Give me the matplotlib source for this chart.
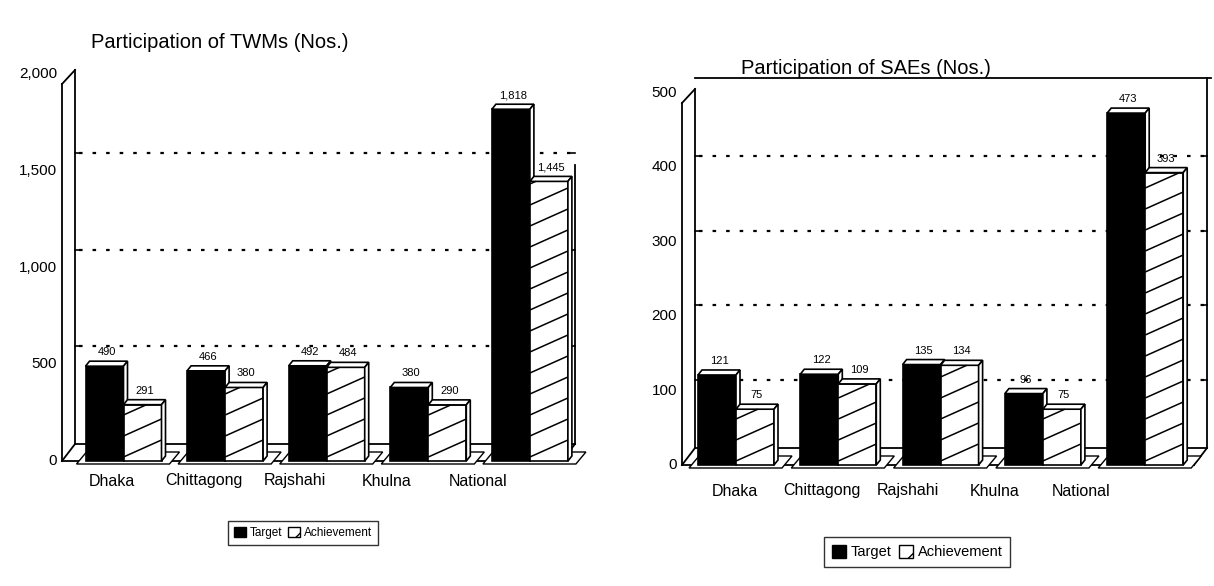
import matplotlib
matplotlib.use('Agg')
import matplotlib.pyplot as plt
from matplotlib.patches import Polygon, Rectangle, Patch
from matplotlib.collections import LineCollection

plt.rcParams['font.family'] = ['Liberation Sans', 'DejaVu Sans']

# data
regions = ['Dhaka', 'Chittagong', 'Rajshahi', 'Khulna', 'National']
twm_target = [490, 466, 492, 380, 1818]
twm_achieved = [291, 380, 484, 290, 1445]
sae_target = [121, 122, 135, 96, 473]
sae_achieved = [75, 109, 134, 75, 393]
twm_ticks = [0, 500, 1000, 1500, 2000]
sae_ticks = [0, 100, 200, 300, 400, 500]
twm_grid = [500, 1000, 1500]
sae_grid = [100, 200, 300, 400]
legend_labels = ['Target', 'Achievement']

W, H = 1214, 586
fig = plt.figure(figsize=(W / 100, H / 100), dpi=100)

# layout of each panel in figure pixels (y measured from the top)
lay_twm = dict(x0=0, x1=607, g0=123.5, step=101.6, y0=461, sy=0.1935,
               lab0=112, labstep=91.5, laby=481, wl=62, wr=562, top=None,
               grid_off=18, title_x=220, title_y=43, leg=(303, 533), legfs=8.5)
lay_sae = dict(x0=607, x1=1214, g0=736, step=102.3, y0=465, sy=0.744,
               lab0=735, labstep=86.5, laby=491, wl=682, wr=1194, top=78,
               grid_off=11, title_x=866, title_y=68, leg=(917, 552), legfs=10.5)


def hatch_segments(x, bw, h, rise, gap):
    # diagonal lines clipped by hand to the bar face
    segs = []
    y = -rise
    while y < h:
        x0, y0, x1, y1 = x, y, x + bw, y + rise
        if y0 < 0:
            x0 = x + bw * (-y) / rise
            y0 = 0
        if y1 > h:
            x1 = x + bw * (h - y) / rise
            y1 = h
        if x1 > x0:
            segs.append([(x0, y0), (x1, y1)])
        y += gap
    return segs


def panel(target, achieved, ticks, grid, title, lay):
    ax = fig.add_axes([lay['x0'] / W, 0, (lay['x1'] - lay['x0']) / W, 1])
    ax.set_axis_off()
    X = lambda px: (px - lay['g0']) / lay['step']
    Y = lambda py: (lay['y0'] - py) / lay['sy']
    DX = lambda px: px / lay['step']
    DY = lambda px: px / lay['sy']
    ax.set_xlim(X(lay['x0']), X(lay['x1']))
    ax.set_ylim(Y(H), Y(0))

    dxw, dyw = DX(13), DY(17)
    xl, xr = X(lay['wl']), X(lay['wr'])
    ytop = ticks[-1]
    k = dict(color='black', lw=1.3, zorder=2)
    # left wall, floor and back edges
    ax.plot([xl, xl], [0, ytop - DY(10)], **k)
    ax.plot([xl + dxw, xl + dxw], [dyw, ytop + DY(4)], **k)
    ax.plot([xl, xl + dxw], [ytop - DY(10), ytop + DY(4)], **k)
    ax.plot([xl, xl + dxw], [0, dyw], **k)
    ax.plot([xl, xr], [0, 0], **k)
    ax.plot([xl + dxw, xr + dxw], [dyw, dyw], **k)
    ax.plot([xr, xr + dxw], [0, dyw], **k)
    if lay['top'] is not None:
        yt = Y(lay['top'])
        ax.plot([xl + dxw, xr + dxw + DX(4)], [yt, yt], **k)
        ax.plot([xr + dxw, xr + dxw], [dyw, yt], **k)
    else:
        ax.plot([xr + dxw, xr + dxw], [dyw, grid[-1] + DY(lay['grid_off'] - 12)], **k)

    # dashed grid on the back wall
    for g in grid:
        gy = g + DY(lay['grid_off'])
        ax.plot([xl + dxw + DX(4), xr + dxw - DX(3)], [gy, gy], color='black', lw=1.6,
                ls=(0, (1.6, 4.5)), zorder=1)
        ax.plot([xl + dxw, xl + dxw + DX(4)], [gy, gy], color='black', lw=1.2, zorder=1)
        ax.plot([xr + dxw - DX(4), xr + dxw], [gy, gy], color='black', lw=1.2, zorder=1)

    # y tick labels
    for t in ticks:
        ax.text(xl - DX(5), t, f'{t:,}', ha='right', va='center', fontsize=11)

    bw = 38 / lay['step']
    bdx, bdy = DX(4), DY(5)
    for i, (t, a) in enumerate(zip(target, achieved)):
        # small floor plate under each group
        plate = Polygon([(i - bw - DX(9), -DY(3)), (i + bw + DX(8), -DY(3)),
                         (i + bw + DX(18), DY(9)), (i - bw + DX(1), DY(9))],
                        closed=True, fc='white', ec='black', lw=1.0, zorder=3)
        ax.add_patch(plate)
        for x, h, fill, hatch in [(i - bw, t, 'black', False), (i, a, 'white', True)]:
            front = Rectangle((x, 0), bw, h, fc=fill, ec='black', lw=1.2, zorder=4)
            ax.add_patch(front)
            top = Polygon([(x, h), (x + bw, h), (x + bw + bdx, h + bdy), (x + bdx, h + bdy)],
                          closed=True, fc='white', ec='black', lw=1.2, zorder=4)
            side = Polygon([(x + bw, 0), (x + bw + bdx, bdy), (x + bw + bdx, h + bdy), (x + bw, h)],
                           closed=True, fc='white', ec='black', lw=1.2, zorder=4)
            ax.add_patch(top)
            ax.add_patch(side)
            if hatch:
                segs = hatch_segments(x, bw, h, DY(17), DY(21))
                ax.add_collection(LineCollection(segs, colors='black', linewidths=1.1, zorder=5))
            ax.text(x + bw / 2 + DX(2), h + bdy + DY(4), f'{h:,}', ha='center', va='bottom',
                    fontsize=8, zorder=6)

    # category labels
    for i, name in enumerate(regions):
        lx = X(lay['lab0'] + lay['labstep'] * i)
        ax.text(lx, Y(lay['laby']), name, ha='center', va='center', fontsize=11.5)

    ax.text(X(lay['title_x']), Y(lay['title_y']), title, ha='center', va='center', fontsize=14.5)

    handles = [Patch(fc='black', ec='black'), Patch(fc='white', ec='black', hatch='/')]
    lx, ly = lay['leg']
    leg = ax.legend(handles, legend_labels, loc='center', ncol=2,
                    bbox_to_anchor=(lx / W, 1 - ly / H), bbox_transform=fig.transFigure,
                    fontsize=lay['legfs'], handlelength=1.0, handleheight=1.0,
                    handletextpad=0.3, columnspacing=0.5, fancybox=False,
                    edgecolor='black', borderpad=0.5)
    leg.get_frame().set_linewidth(1.0)
    return ax


panel(twm_target, twm_achieved, twm_ticks, twm_grid, 'Participation of TWMs (Nos.)', lay_twm)
panel(sae_target, sae_achieved, sae_ticks, sae_grid, 'Participation of SAEs (Nos.)', lay_sae)

fig.savefig('out.png', dpi=100)
